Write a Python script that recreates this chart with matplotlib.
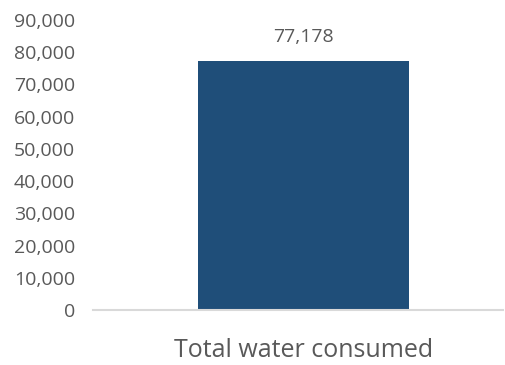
import matplotlib
matplotlib.use("Agg")
import matplotlib.pyplot as plt
from matplotlib.ticker import FuncFormatter, MultipleLocator

categories = ["Total water consumed"]
values = [77178]

plt.rcParams['font.family'] = ['Open Sans', 'DejaVu Sans']
text_color = '#595959'

fig = plt.figure(figsize=(5.05, 3.65), dpi=100)
ax = fig.add_axes([0.184, 0.1507, 0.812, 0.7945])

bars = ax.bar(range(len(categories)), values, width=0.515, color='#1F4E79')
ax.set_xlim(-0.513, 0.487)
ax.set_ylim(0, 90000)
ax.yaxis.set_major_locator(MultipleLocator(10000))
ax.yaxis.set_major_formatter(FuncFormatter(lambda v, p: f'{int(v):,}'))

ax.set_xticks(range(len(categories)))
ax.set_xticklabels(categories, fontsize=18, color=text_color)
ax.tick_params(axis='x', length=0, pad=20)
ax.tick_params(axis='y', length=0, pad=13, labelsize=14, labelcolor=text_color)

for s in ['top', 'right', 'left']:
    ax.spines[s].set_visible(False)
ax.spines['bottom'].set_color('#D9D9D9')
ax.spines['bottom'].set_linewidth(1.5)

for b, v in zip(bars, values):
    ax.annotate(f'{v:,}', (b.get_x() + b.get_width() / 2, v),
                xytext=(0, 11), textcoords='offset points',
                ha='center', va='bottom', fontsize=14, color=text_color)

fig.savefig('out.png', dpi=100)
